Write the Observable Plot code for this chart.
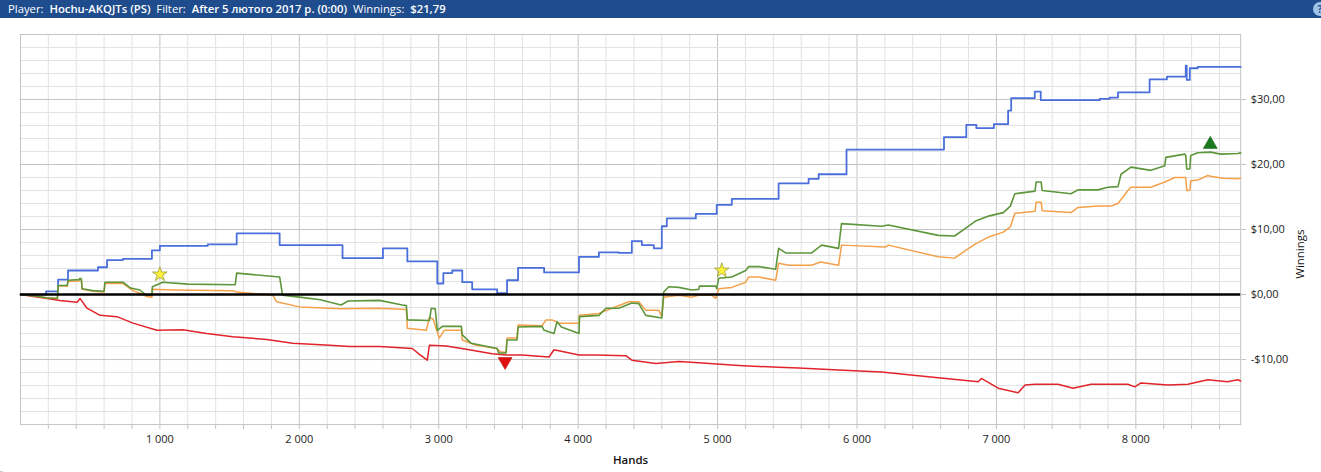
<!DOCTYPE html>
<html>
<head>
<meta charset="utf-8">
<script src="https://cdn.jsdelivr.net/npm/d3@7"></script>
<script src="https://cdn.jsdelivr.net/npm/@observablehq/plot@0.6"></script>
<style>
  html, body { margin: 0; padding: 0; background: #fff; }
  body { width: 1321px; height: 472px; overflow: hidden; font-family: "Open Sans", "DejaVu Sans", sans-serif; }
  #header { height: 18px; background: #1e4c8d; color: #fff; font-size: 11.3px; line-height: 18px; padding-left: 8px; white-space: nowrap; position: relative; }
  #header b { font-weight: 600; }
  #help { position: absolute; right: -6px; top: 2px; width: 14px; height: 14px; border-radius: 7px; background: #9fc4ea; color: #1e4c8d; font-size: 10px; line-height: 14px; text-align: center; font-weight: 700; }
  #chart { border-left: 3px solid #c9ccd3; height: 454px; box-sizing: border-box; margin-left: 0; }
  #chart svg { display: block; margin-left: -3px; }
</style>
</head>
<body>
<div id="header">Player:&nbsp; <b>Hochu-AKQJTs (PS)</b>&nbsp; Filter:&nbsp; <b>After 5 лютого 2017 р. (0:00)</b>&nbsp; Winnings:&nbsp; <b>$21,79</b><span id="help">?</span></div>
<div id="chart"></div>
<script>
// ---- data (hands, $ winnings) ----
const xTickValues = [1000, 2000, 3000, 4000, 5000, 6000, 7000, 8000];
const yTickValues = [-10, 0, 10, 20, 30];
const xLabel = "Hands";
const yLabel = "Winnings";

// Showdown winnings (blue) – step series
const blueSeries = [
  [0,0],[184,0.5],[270,2.3],[341,3.7],[556,4.2],[621,5.3],[735,5.5],[943,6.8],[1000,7.5],[1343,7.7],
  [1551,9.4],[1859,7.6],[2310,5.6],[2600,7.1],[2775,5.1],[2990,1.7],[3033,3.3],[3097,3.7],[3169,1.9],
  [3240,0.8],[3419,0.2],[3490,2.2],[3569,4.1],[3756,3.4],[4006,5.8],[4149,6.5],[4292,6.4],[4385,8.2],
  [4457,7.6],[4543,7.1],[4600,10.5],[4636,11.7],[4844,12.4],[4994,13.8],[5102,14.7],[5438,17.1],
  [5653,17.8],[5725,18.5],[5925,22.3],[6624,24.2],[6784,26.1],[6856,25.6],[6982,26.2],[7084,28.3],
  [7106,30.2],[7275,31.2],[7318,29.9],[7741,30.1],[7812,30.3],[7872,31.1],[8099,33.1],[8223,33.5],
  [8358,35.2],[8365,33.0],[8387,34.8],[8444,35.0],[8752,35.0]
];

// Net won (green)
const greenSeries = [
  [0,0],[100,-0.2],[184,-0.5],[265,-0.6],[270,1.4],[336,1.4],[341,2.2],[420,2.3],[427,2.5],[437,2.4],
  [442,0.9],[520,0.6],[600,0.5],[606,1.9],[735,1.9],[790,1.0],[857,0.7],[900,-0.1],[943,-0.1],[946,1.2],
  [1021,1.9],[1200,1.6],[1540,1.5],[1551,3.3],[1700,3.0],[1859,2.7],[1880,-0.1],[2002,-0.4],[2150,-0.8],
  [2300,-1.6],[2350,-1.0],[2575,-0.9],[2739,-1.6],[2768,-1.7],[2775,-3.9],[2933,-4.0],[2947,-2.1],
  [2975,-2.2],[2990,-5.5],[3026,-4.9],[3162,-4.9],[3169,-6.2],[3233,-7.5],[3419,-8.3],[3430,-9.0],
  [3483,-9.0],[3490,-7.0],[3562,-7.0],[3569,-5.0],[3741,-4.9],[3756,-5.5],[3827,-6.0],[3848,-4.2],
  [3880,-5.0],[4006,-6.0],[4010,-3.4],[4149,-3.2],[4199,-2.1],[4292,-2.1],[4385,-1.3],[4435,-1.4],
  [4485,-3.2],[4600,-3.6],[4614,0.4],[4650,1.2],[4722,1.1],[4815,0.7],[4865,0.8],[4870,1.3],[4987,1.3],
  [4994,0.9],[5008,2.5],[5102,2.7],[5202,3.7],[5224,4.3],[5295,4.3],[5417,3.9],[5438,7.1],[5488,6.4],
  [5675,6.4],[5746,7.6],[5868,7.1],[5889,10.9],[6175,10.5],[6225,10.7],[6583,9.1],[6700,9.0],
  [6780,10.2],[6850,11.3],[6950,12.1],[7049,12.6],[7100,13.6],[7132,15.5],[7277,15.9],[7285,17.3],[7321,17.3],
  [7328,16.0],[7535,15.5],[7585,16.1],[7729,16.1],[7800,16.5],[7872,16.6],[7894,18.5],[7965,19.6],
  [8108,19.1],[8208,19.8],[8215,21.1],[8351,21.6],[8358,21.4],[8365,19.3],[8387,19.3],[8394,21.4],
  [8444,21.8],[8537,21.9],[8608,21.6],[8730,21.7],[8752,21.79]
];

// All-in EV adjusted (orange)
const orangeSeries = [
  [0,0],[100,-0.2],[184,-0.5],[265,-0.6],[270,1.3],[336,1.3],[341,2.0],[420,2.1],[427,2.3],[437,2.2],
  [442,0.8],[520,0.5],[600,0.4],[606,1.7],[735,1.7],[807,0.6],[857,0.2],[907,-0.3],[943,-0.4],[946,0.8],
  [1100,0.7],[1523,0.6],[1551,0.4],[1809,-0.1],[1837,-1.1],[2002,-1.9],[2300,-2.2],[2575,-2.1],
  [2768,-2.3],[2775,-5.2],[2911,-5.5],[2933,-3.5],[2960,-3.8],[3004,-6.7],[3040,-5.5],[3162,-5.5],
  [3169,-7.0],[3269,-7.8],[3419,-8.3],[3440,-8.8],[3483,-8.9],[3490,-6.7],[3562,-6.7],[3569,-4.7],
  [3741,-4.8],[3770,-3.9],[3813,-3.9],[3863,-4.4],[4006,-4.4],[4010,-3.2],[4149,-2.9],[4242,-2.1],
  [4364,-1.1],[4435,-1.1],[4485,-2.4],[4578,-2.4],[4600,-3.4],[4614,-0.4],[4650,-0.3],[4722,-0.1],
  [4815,-0.4],[4865,-0.1],[4958,-0.1],[4987,-0.6],[5008,0.9],[5102,1.1],[5202,1.9],[5224,2.7],
  [5295,2.7],[5417,2.2],[5438,4.8],[5510,4.5],[5675,4.5],[5739,5.0],[5868,4.5],[5889,7.6],[6204,7.3],
  [6225,7.6],[6583,5.8],[6700,5.6],[6780,6.8],[6850,7.8],[6950,8.9],[7049,9.6],[7100,10.4],[7132,12.5],[7277,12.8],
  [7285,14.2],[7321,14.2],[7328,12.9],[7535,12.6],[7585,13.4],[7729,13.6],[7822,13.6],[7872,14.0],
  [7943,16.0],[7965,16.5],[8108,16.5],[8208,17.3],[8280,18.0],[8358,18.0],[8365,16.0],[8387,16.0],
  [8394,17.5],[8444,17.6],[8516,18.3],[8537,18.2],[8623,17.9],[8730,17.8],[8752,17.9]
];

// Non-showdown winnings (red)
const redSeries = [
  [0,0],[191,-0.6],[284,-0.9],[406,-1.2],[427,-0.6],[477,-2.1],[571,-3.2],[692,-3.4],[807,-4.4],
  [979,-5.5],[1164,-5.4],[1336,-6.0],[1523,-6.5],[1766,-6.9],[1952,-7.5],[2217,-7.8],[2360,-8.0],
  [2575,-8.0],[2811,-8.3],[2861,-9.2],[2918,-10.1],[2933,-7.8],[3054,-7.9],[3219,-8.5],[3383,-9.1],
  [3483,-9.3],[3598,-9.3],[3791,-9.6],[3827,-8.5],[4006,-9.3],[4128,-9.3],[4342,-9.4],[4385,-10.1],
  [4557,-10.6],[4722,-10.3],[4865,-10.5],[5152,-10.9],[5438,-11.2],[5581,-11.3],[5868,-11.6],
  [6175,-11.9],[6440,-12.5],[6583,-12.8],[6727,-13.1],[6870,-13.4],[6892,-12.9],[7013,-14.4],
  [7156,-15.1],[7206,-13.9],[7277,-13.8],[7442,-13.8],[7550,-14.4],[7679,-13.8],[7943,-13.8],
  [7993,-14.2],[8037,-13.6],[8230,-13.9],[8373,-13.8],[8516,-13.1],[8658,-13.4],[8730,-13.1],[8752,-13.3]
];

// Markers
const starMarkers = [[1000, 3.1], [5030, 3.7]];
const lowMarker = [[3476, -10.3]];
const highMarker = [[8534, 23.1]];

const fmtHands = d => d3.format(",")(d).replace(/,/g, " ");
const fmtMoney = v => (v < 0 ? "-" : "") + "$" + Math.abs(v).toFixed(2).replace(".", ",");
const X = d => d[0], Y = d => d[1];

const chart = Plot.plot({
  width: 1321,
  height: 454,
  marginLeft: 20,
  marginRight: 78,
  marginTop: 16,
  marginBottom: 47,
  style: { fontFamily: "'Open Sans', 'DejaVu Sans', sans-serif", fontSize: "11px", color: "#222", background: "#fff" },
  x: { domain: [0, 8752] },
  y: { domain: [-20, 40] },
  marks: [
    Plot.gridX(d3.range(200, 8752, 200), { stroke: d => d % 1000 === 0 ? "#c4c4c4" : "#e2e2e2", strokeOpacity: 1 }),
    Plot.gridY(d3.range(-18, 40, 2), { stroke: d => d % 10 === 0 ? "#c4c4c4" : "#e2e2e2", strokeOpacity: 1 }),
    Plot.frame({ stroke: "#c4c4c4" }),
    Plot.axisX(d3.range(200, 8752, 200), { tickSize: 5, tickPadding: 6, stroke: "#c4c4c4", fill: "#222",
      tickFormat: d => d % 1000 === 0 ? fmtHands(d) : "", label: null, fontSize: 11 }),
    Plot.axisY(yTickValues, { anchor: "right", tickSize: 5, tickPadding: 5, stroke: "#c4c4c4", fill: "#222",
      tickFormat: fmtMoney, label: null, fontSize: 11 }),
    Plot.text([xLabel], { frameAnchor: "bottom", dy: 40, text: d => d, fontWeight: 600, fontSize: 11.5, fill: "#111" }),
    Plot.text([yLabel], { frameAnchor: "right", dx: 60, rotate: -90, text: d => d, fontSize: 11.5, fill: "#111" }),
    Plot.line(blueSeries, { x: X, y: Y, curve: "step-after", stroke: "#4a6fdc", strokeWidth: 1.8 }),
    Plot.line(redSeries, { x: X, y: Y, stroke: "#e2242a", strokeWidth: 1.5 }),
    Plot.line(orangeSeries, { x: X, y: Y, stroke: "#f5a04a", strokeWidth: 1.5 }),
    Plot.line(greenSeries, { x: X, y: Y, stroke: "#5e963c", strokeWidth: 1.6 }),
    Plot.ruleY([0], { stroke: "#000", strokeWidth: 2.5 }),
    Plot.dot(starMarkers, { x: X, y: Y, symbol: "star", r: 4.6, fill: "#fff23a", stroke: "#9a9a40", strokeWidth: 0.8 }),
    Plot.dot(lowMarker, { x: X, y: Y, symbol: "triangle", r: 5.2, rotate: 180, fill: "#e01010", stroke: "#b00000", strokeWidth: 0.5 }),
    Plot.dot(highMarker, { x: X, y: Y, symbol: "triangle", r: 5.2, fill: "#197a1e", stroke: "#0f5a12", strokeWidth: 0.5 })
  ]
});
document.getElementById("chart").appendChild(chart);
</script>
</body>
</html>
